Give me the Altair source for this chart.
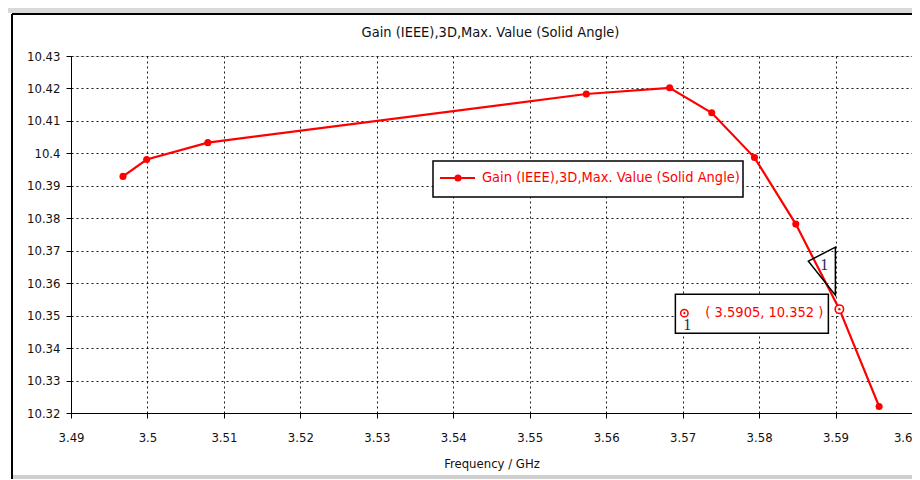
import altair as alt
import pandas as pd

# ---- data ----
freq = [3.4968, 3.4999, 3.5079, 3.5574, 3.5683, 3.5738, 3.5794, 3.5848, 3.5905, 3.5957]
gain = [10.3929, 10.3981, 10.4033, 10.4183, 10.4202, 10.4125, 10.3987, 10.3782, 10.352, 10.3220]
series_name = "Gain (IEEE),3D,Max. Value (Solid Angle)"
marker_freq = [3.5905]
marker_gain = [10.352]
marker_id = ["1"]
x_ticks = [3.49, 3.50, 3.51, 3.52, 3.53, 3.54, 3.55, 3.56, 3.57, 3.58, 3.59, 3.60]
y_ticks = [10.32, 10.33, 10.34, 10.35, 10.36, 10.37, 10.38, 10.39, 10.40, 10.41, 10.42, 10.43]

FONT = "DejaVu Sans Condensed, Liberation Sans Narrow, Liberation Sans, sans-serif"
W, H = 841, 357

df = pd.DataFrame({"f": freq, "g": gain})
mk = pd.DataFrame({"f": marker_freq, "g": marker_gain, "id": marker_id})
mk["label"] = mk.apply(lambda r: f"( {r.f:g}, {r.g:g} )", axis=1)
one = pd.DataFrame({"t": [series_name]})

xs = alt.Scale(domain=[x_ticks[0], x_ticks[-1]], nice=False, zero=False)
ys = alt.Scale(domain=[y_ticks[0], y_ticks[-1]], nice=False, zero=False)

xax = alt.Axis(values=x_ticks, tickCount=len(x_ticks), format=".3~r", title="Frequency / GHz",
               grid=True, gridColor="#000", gridDash=[2, 3], gridOpacity=0.9, gridWidth=1,
               domainColor="#000", domainWidth=1, tickColor="#000", tickSize=5,
               labelFont=FONT, labelFontSize=13, labelColor="#111", labelPadding=13,
               labelAlign=alt.ExprRef(expr="datum.value > 3.595 ? 'right' : 'center'"),
               labelFlush=False, labelOverlap=False, titleFont=FONT, titleFontSize=13,
               titleFontWeight="normal", titleColor="#111", titlePadding=13)
yax = alt.Axis(values=y_ticks, tickCount=len(y_ticks), format=".4~r", title=None,
               grid=True, gridColor="#000", gridDash=[2, 3], gridOpacity=0.9, gridWidth=1,
               domainColor="#000", domainWidth=1, tickColor="#000", tickSize=5,
               labelFont=FONT, labelFontSize=13, labelColor="#111", labelPadding=6,
               labelFlush=False, labelOverlap=False)

base = alt.Chart(df).encode(
    x=alt.X("f:Q", scale=xs, axis=xax),
    y=alt.Y("g:Q", scale=ys, axis=yax),
)
line = base.mark_line(color="#ff0000", strokeWidth=2.2)
pts = base.mark_point(filled=True, color="#ff0000", size=50, opacity=1)

mbase = alt.Chart(mk).encode(x=alt.X("f:Q", scale=xs), y=alt.Y("g:Q", scale=ys))
# annotation box and callout triangle (paths anchored at the marker point; size=4 -> 1 unit = 1px)
box = mbase.mark_point(shape="M -164 -15 L -11 -15 L -11 24 L -164 24 Z", size=4,
                       filled=True, fill="white", stroke="#000", strokeWidth=1.5, opacity=1)
tri = mbase.mark_point(shape="M -31 -48 L -4 -62 L -4 -14 Z", size=4, filled=False,
                       stroke="#000", strokeWidth=1.5, opacity=1)
ring = mbase.mark_point(shape="circle", size=70, filled=True, fill="white", stroke="#ff0000",
                        strokeWidth=1.6, opacity=1)
dot = mbase.mark_point(shape="circle", size=6, filled=True, color="#ff0000", opacity=1)
ring2 = mbase.mark_point(shape="circle", size=55, filled=True, fill="white", stroke="#ff0000",
                         strokeWidth=1.5, opacity=1, xOffset=-155, yOffset=4)
dot2 = mbase.mark_point(shape="circle", size=5, filled=True, color="#ff0000", opacity=1,
                        xOffset=-155, yOffset=4)
lbl = mbase.mark_text(font=FONT, fontSize=14.5, color="#ff0000", align="center",
                      baseline="middle", xOffset=-75, yOffset=4).encode(text="label:N")
id1 = mbase.mark_text(font="Liberation Serif, serif", fontSize=16, color="#1a2a5a",
                      align="center", baseline="middle", xOffset=-152, yOffset=16).encode(text="id:N")
id2 = mbase.mark_text(font="Liberation Serif, serif", fontSize=16, color="#1a2a5a",
                      align="center", baseline="middle", xOffset=-15, yOffset=-44).encode(text="id:N")

# legend (drawn by hand)
lc = alt.Chart(one)
leg_box = lc.mark_rect(fill="white", stroke="#000", strokeWidth=1.5).encode(
    x=alt.value(362), x2=alt.value(672), y=alt.value(105), y2=alt.value(141))
leg_line = lc.mark_rule(color="#ff0000", strokeWidth=2.2).encode(
    x=alt.value(369), x2=alt.value(404), y=alt.value(122))
leg_dot = lc.mark_point(filled=True, color="#ff0000", size=50, opacity=1).encode(
    x=alt.value(387), y=alt.value(122))
leg_txt = lc.mark_text(font=FONT, fontSize=14.5, color="#ff0000", align="left",
                       baseline="middle").encode(x=alt.value(411), y=alt.value(122), text="t:N")

# chart title (text mark so it is not displaced by the frame decoration)
title = lc.mark_text(font=FONT, fontSize=14.5, color="#111", align="center",
                     baseline="middle").encode(x=alt.value(W / 2 - 1), y=alt.value(-23), text="t:N")

# window frame decoration
frame_top = lc.mark_rule(color="#000", strokeWidth=2).encode(
    x=alt.value(-59), x2=alt.value(W + 10), y=alt.value(-42))
frame_left = lc.mark_rule(color="#000", strokeWidth=2).encode(
    x=alt.value(-59), y=alt.value(-42), y2=alt.value(H + 66))
band_top = lc.mark_rect(fill="#d9d9d9").encode(
    x=alt.value(-63), x2=alt.value(W + 10), y=alt.value(-48), y2=alt.value(-43))
band_bot = lc.mark_rect(fill="#cfcfcf").encode(
    x=alt.value(-58), x2=alt.value(W + 10), y=alt.value(H + 62), y2=alt.value(H + 66))

chart = alt.layer(
    band_top, band_bot, frame_top, frame_left, title,
    line, pts, box, tri, ring, dot, ring2, dot2, lbl, id1, id2,
    leg_box, leg_line, leg_dot, leg_txt,
).properties(
    width=W, height=H,
    autosize=alt.AutoSizeParams(type="none"),
    padding={"left": 63, "top": 48, "right": 0, "bottom": 66},
).configure_view(stroke="#000", strokeWidth=1).configure(background="white")

chart.save("out.html", embed_options={"renderer": "svg", "actions": False})
